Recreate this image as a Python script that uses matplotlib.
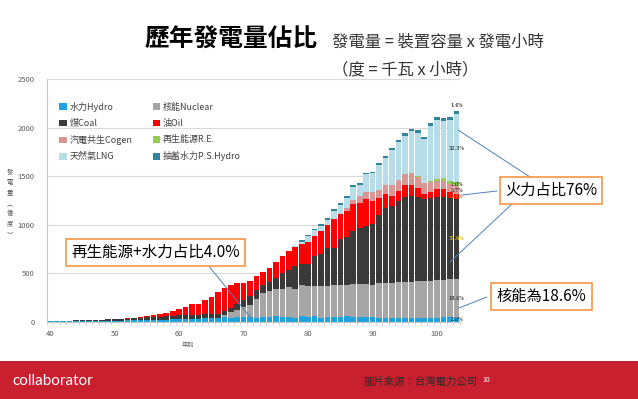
import numpy as np
import matplotlib
matplotlib.use('Agg')
import matplotlib.pyplot as plt
from matplotlib.patches import Patch, Rectangle

plt.rcParams['font.family'] = ['Noto Sans CJK TC', 'DejaVu Sans']

# 民國年 40 ~ 103, 發電量 (億度)
years = np.arange(40, 104)

hydro = [7, 7, 8, 8, 9, 10, 10, 11, 12, 13,
         14, 15, 17, 18, 20, 22, 23, 24, 25, 27,
         30, 32, 35, 35, 45, 42, 40, 55, 45, 50,
         55, 50, 45, 55, 48, 60, 55, 50, 45, 60,
         50, 65, 45, 55, 50, 55, 65, 55, 50, 55,
         50, 40, 40, 45, 40, 45, 40, 45, 40, 45,
         45, 55, 55, 43]
nuclear = [0] * 27 + [20, 55, 70,
           100, 125, 195, 240, 270, 275, 285, 310, 290, 320,
           325, 305, 330, 320, 330, 330, 320, 335, 340, 340,
           330, 360, 365, 360, 370, 365, 375, 375, 380, 380,
           385, 380, 385, 404]
coal = [4, 5, 5, 6, 7, 8, 10, 11, 12, 13,
        14, 16, 18, 21, 24, 28, 30, 32, 35, 36,
        38, 38, 40, 40, 40, 40, 40, 35, 45, 70,
        73, 95, 90, 85, 97, 120, 160, 180, 240, 220,
        223, 313, 325, 387, 382, 468, 485, 548, 575, 594,
        626, 700, 771, 788, 835, 877, 885, 865, 842, 848,
        857, 852, 835, 816]
oil = [0] * 9 + [1, 2, 3, 3, 4, 6, 10, 17, 24, 35, 47,
       62, 80, 110, 115, 145, 178, 230, 240, 240, 210,
       170, 150, 140, 130, 140, 160, 180, 195, 200, 205,
       230, 205, 240, 240, 295, 262, 272, 272, 262, 272,
       238, 178, 136, 102, 102, 121, 105, 96, 51, 67,
       77, 77, 65, 52]
cogen = [0] * 46 + [30, 40, 65, 79,
         90, 85, 100, 110, 119, 116, 125, 109, 112, 100,
         90, 85, 80, 80]
renew = [0] * 56 + [5, 7, 8, 10, 20, 30, 35, 43]
lng = [0] * 38 + [5, 20,
       55, 55, 50, 46, 82, 92, 108, 135, 116, 178,
       194, 253, 272, 364, 383, 391, 430, 450, 450, 571,
       604, 585, 625, 702]
ps_hydro = [0] * 38 + [5, 15,
            17, 17, 20, 20, 20, 20, 20, 20, 20, 20,
            20, 20, 20, 20, 25, 25, 25, 25, 25, 30,
            30, 30, 30, 30]

series = [hydro, nuclear, coal, oil, cogen, renew, lng, ps_hydro]
names = ['水力Hydro', '核能Nuclear', '煤Coal', '油Oil',
         '汽電共生Cogen', '再生能源R.E.', '天然氣LNG', '抽蓄水力P.S.Hydro']
colors = ['#1fa3e0', '#a6a6a6', '#3a3a3a', '#ff0000',
          '#d99694', '#92d050', '#b7dde8', '#31849b']
pct_103 = ['2.0%', '18.6%', '37.6%', '2.4%', '3.7%', '2.0%', '32.3%', '1.4%']
pct_col = ['#404040', '#404040', '#e6b800', '#e07020', '#404040', '#404040', '#404040', '#404040']

W, H = 638, 399
fig = plt.figure(figsize=(W / 100, H / 100), dpi=100)


def fx(px):
    return px / W


def fy(py):
    return 1 - py / H


ax = fig.add_axes((fx(47), fy(322), (460 - 47) / W, (322 - 79) / H))

bottom = np.zeros(len(years))
for vals, c in zip(series, colors):
    ax.bar(years, vals, bottom=bottom, width=0.87, color=c, linewidth=0)
    bottom = bottom + np.array(vals)

# percentages for the last year
b = 0
for vals, lab, c in zip(series, pct_103, pct_col):
    v = vals[-1]
    y = b + v / 2 if lab != '1.4%' else b + v + 60
    ax.text(years[-1], y, lab, fontsize=3.3, weight='bold', color=c,
            ha='center', va='center', family='DejaVu Serif')
    b += v

ax.set_xlim(39.5, 103.55)
ax.set_ylim(0, 2500)
ax.set_yticks(range(0, 2501, 500))
ax.set_xticks(range(40, 101, 10))
ax.set_xticks(np.arange(39.5, 104, 1), minor=True)
ax.grid(axis='y', color='#d9d9d9', lw=0.8)
ax.set_axisbelow(True)
for s in ['top', 'right']:
    ax.spines[s].set_visible(False)
ax.spines['left'].set_color('#c8c8c8')
ax.spines['bottom'].set_color('#c8c8c8')
ax.tick_params(axis='y', length=0, labelsize=5.5, labelcolor='#595959', pad=9)
ax.tick_params(axis='x', which='major', length=0, labelsize=5.5, labelcolor='#595959', pad=6)
ax.tick_params(axis='x', which='minor', length=2, color='#d0d0d0')

order = [0, 2, 4, 6, 1, 3, 5, 7]
handles = [Patch(facecolor=colors[i], label=names[i]) for i in order]
ax.legend(handles=handles, ncol=2, loc='upper left', bbox_to_anchor=(0.03, 0.905),
          frameon=False, fontsize=6.5, handlelength=0.8, handleheight=0.8,
          handletextpad=0.3, labelspacing=0.78, columnspacing=2.3,
          borderpad=0, borderaxespad=0, labelcolor='#404040')

fig.text(fx(10), fy(203), '\n'.join('發電量︵億度︶'), fontsize=4.5, ha='center',
         va='center', linespacing=1.4, color='#595959')
fig.text(fx(188), fy(345), '年別', fontsize=4.5, ha='center', va='center', color='#595959')

# call-out lines
line_kw = dict(arrowstyle='-', color='#4f81bd', lw=0.7, shrinkA=0, shrinkB=0)
callouts = [((530, 177), (103.25, 1975)), ((497, 191), (103.9, 1307)),
            ((512, 204), (102.0, 617)), ((487, 297), (103.4, 144)),
            ((208, 265), (71.0, 51))]
for (px, py), xy in callouts:
    ax.annotate('', xy=xy, xycoords='data', xytext=(px, H - py),
                textcoords='figure pixels', arrowprops=line_kw, annotation_clip=False)

box = dict(boxstyle='square,pad=0.35', fc='white', ec='#f79646', lw=1.2)
fig.text(fx(551), fy(190.5), '火力占比76%', fontsize=11, ha='center', va='center', bbox=box)
fig.text(fx(541.5), fy(296.5), '核能為18.6%', fontsize=11, ha='center', va='center', bbox=box)
fig.text(fx(155.5), fy(252.5), '再生能源+水力占比4.0%', fontsize=11.2, ha='center', va='center', bbox=box)

# titles
fig.text(fx(145), fy(40), '歷年發電量佔比', fontsize=17.8, weight='bold', ha='left', va='center')
fig.text(fx(332), fy(42), '發電量 = 裝置容量 x 發電小時', fontsize=11.8, ha='left',
         va='center', color='#333333')
fig.text(fx(332), fy(70), '（度 = 千瓦 x 小時）', fontsize=11.8, ha='left',
         va='center', color='#333333')

# footer band
fig.add_artist(Rectangle((0, 0), 1, (H - 361) / H, transform=fig.transFigure,
                         fc='#c8202e', ec='none', zorder=0))
fig.text(fx(12), fy(381), 'collaborator', fontsize=11, color='white', ha='left',
         va='center', family='Lato')
fig.text(fx(363), fy(382), '圖片來源：台灣電力公司', fontsize=7.5, color='#2b2b2b',
         ha='left', va='center')
fig.text(fx(482), fy(380), '10', fontsize=5, color='white', ha='left', va='center')

fig.savefig('out.png', dpi=100)
